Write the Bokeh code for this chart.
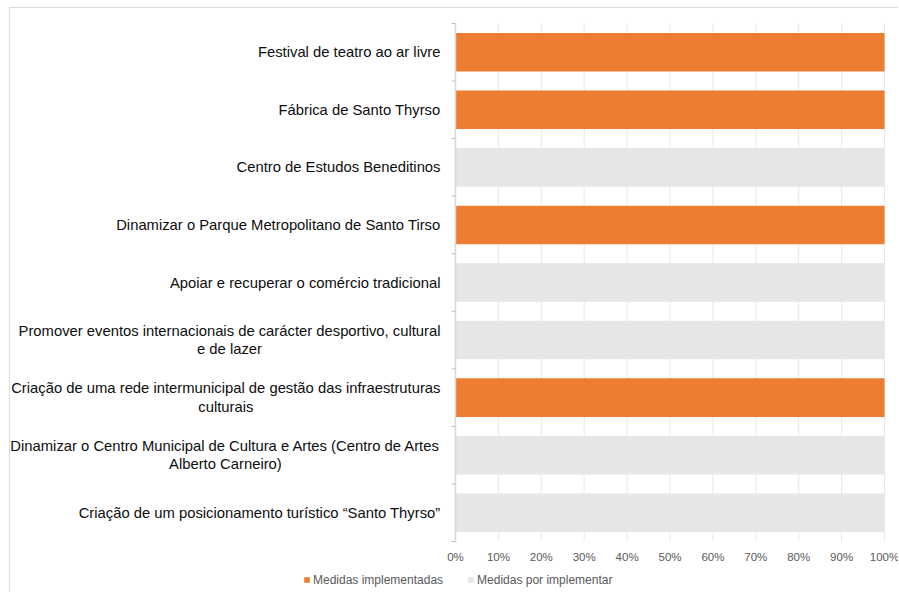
import math
from bokeh.plotting import figure
from bokeh.models import ColumnDataSource, Range1d, Legend, LegendItem
from bokeh.core.properties import value
from bokeh.embed import file_html
from bokeh.resources import INLINE

# ---------------- data ----------------
categories = [
    "Festival de teatro ao ar livre",
    "Fábrica de Santo Thyrso",
    "Centro de Estudos Beneditinos",
    "Dinamizar o Parque Metropolitano de Santo Tirso",
    "Apoiar e recuperar o comércio tradicional",
    "Promover eventos internacionais de carácter desportivo, cultural\ne de lazer",
    "Criação de uma rede intermunicipal de gestão das infraestruturas\nculturais",
    "Dinamizar o Centro Municipal de Cultura e Artes (Centro de Artes\nAlberto Carneiro)",
    "Criação de um posicionamento turístico “Santo Thyrso”",
]
implemented = [100, 100, 0, 100, 0, 0, 100, 0, 0]
not_implemented = [0, 0, 100, 0, 100, 100, 0, 100, 100]
series_names = ["Medidas implementadas", "Medidas por implementar"]
x_ticks = [0, 10, 20, 30, 40, 50, 60, 70, 80, 90, 100]
x_tick_labels = ["0%", "10%", "20%", "30%", "40%", "50%", "60%", "70%", "80%", "90%", "100%"]

# ---------------- layout / styles ----------------
ORANGE = "#ED7D31"
GRAY = "#E6E6E6"
GRID = "#E8E8E8"
FONT = "Liberation Sans"
LABEL_FS = 14.8
GAP = 15
W_CANVAS, H_CANVAS = 889, 585
PX_LEFT, PX_RIGHT = 445, 874     # pixel positions of 0% and 100%
PX_TOP, PX_BOTTOM = 15, 533      # pixel positions of the top and bottom of the bar area

n = len(categories)
ux = (PX_RIGHT - PX_LEFT) / 100.0
uy = (PX_BOTTOM - PX_TOP) / float(n)
x_range = Range1d(-PX_LEFT / ux, 100 + (W_CANVAS - PX_RIGHT) / ux)
y_range = Range1d(-(H_CANVAS - PX_BOTTOM) / uy, n + PX_TOP / uy)

y_pos = [n - i - 0.5 for i in range(n)]
source = ColumnDataSource(dict(y=y_pos, impl=implemented, nimpl=not_implemented))

p = figure(width=W_CANVAS, height=H_CANVAS, output_backend="svg", toolbar_location=None,
           x_range=x_range, y_range=y_range,
           x_axis_location=None, y_axis_location=None, min_border=0,
           styles={"margin-left": "9px", "margin-top": "7px",
                   "border-top": "1px solid #DCDCDC", "border-left": "1px solid #DCDCDC"})
p.outline_line_color = None
p.background_fill_color = "white"
p.border_fill_color = "white"
p.grid.visible = False

# vertical grid lines at the percentage ticks
p.segment(x0=x_ticks, y0=[0] * len(x_ticks), x1=x_ticks, y1=[n] * len(x_ticks),
          line_color=GRID, line_width=1)

rs = p.hbar_stack(["impl", "nimpl"], y="y", height=0.67, source=source,
                  fill_color=[ORANGE, GRAY], line_color=None)

# category axis line + boundary ticks
p.segment(x0=[0], y0=[0], x1=[0], y1=[n], line_color="#D6D6D6", line_width=1.5)
p.ray(x=[0] * (n + 1), y=list(range(n + 1)), length=4, length_units="screen",
      angle=math.pi, line_color="#BFBFBF", line_width=1)

# percentage tick labels
p.text(x=x_ticks, y=[0] * len(x_ticks), text=x_tick_labels, y_offset=15,
       text_align="center", text_baseline="middle", text_font=value(FONT),
       text_font_size=value("11.5px"), text_color="#595959")

# category labels (right-aligned block, wrapped lines centred)
W = {' ': 278, ',': 278, '(': 333, ')': 333, '“': 333, '”': 333, '"': 355,
     'a': 556, 'b': 556, 'c': 500, 'd': 556, 'e': 556, 'f': 278, 'g': 556, 'h': 556,
     'i': 222, 'j': 222, 'k': 500, 'l': 222, 'm': 833, 'n': 556, 'o': 556, 'p': 556,
     'q': 556, 'r': 333, 's': 500, 't': 278, 'u': 556, 'v': 500, 'w': 722, 'x': 500,
     'y': 500, 'z': 500, 'á': 556, 'ã': 556, 'é': 556, 'í': 222, 'ó': 556, 'ç': 500,
     'A': 667, 'B': 667, 'C': 722, 'D': 722, 'E': 667, 'F': 611, 'M': 833, 'P': 667,
     'S': 667, 'T': 611}


def text_width(s):
    return sum(W.get(ch, 556) for ch in s) * LABEL_FS / 1000.0


single = dict(x=[], y=[], text=[], xo=[])
multi = dict(x=[], y=[], text=[], xo=[])
for cat, yc in zip(categories, y_pos):
    lines = cat.split("\n")
    d = single if len(lines) == 1 else multi
    d["x"].append(0)
    d["y"].append(yc)
    d["text"].append(cat)
    if len(lines) == 1:
        d["xo"].append(-GAP)
    else:
        d["xo"].append(-GAP - max(text_width(l) for l in lines) / 2.0)

common = dict(text_baseline="middle", text_font=value(FONT),
              text_font_size=value(f"{LABEL_FS}px"), text_color="#0D0D0D",
              text_line_height=1.15)
p.text(x="x", y="y", text="text", x_offset="xo", text_align="right",
       source=ColumnDataSource(single), **common)
p.text(x="x", y="y", text="text", x_offset="xo", text_align="center",
       source=ColumnDataSource(multi), **common)

legend = Legend(items=[LegendItem(label=series_names[0], renderers=[rs[0]]),
                       LegendItem(label=series_names[1], renderers=[rs[1]])],
                location=(293, 6), orientation="horizontal",
                padding=0, margin=0, spacing=24, glyph_width=7, glyph_height=7,
                label_standoff=3, label_height=15,
                label_text_font=FONT, label_text_font_size="12px",
                label_text_color="#595959",
                border_line_color=None, background_fill_alpha=0)
p.add_layout(legend)

open("out.html", "w").write(file_html(p, INLINE))
